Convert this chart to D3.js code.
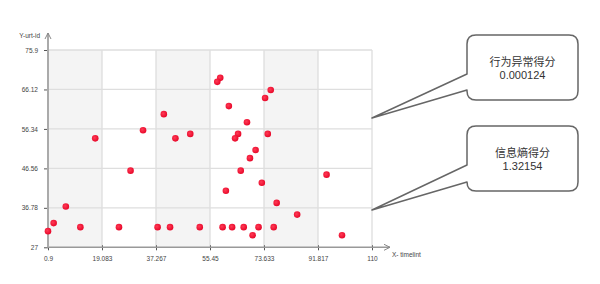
<!DOCTYPE html>
<html>
<head>
<meta charset="utf-8">
<script src="https://cdn.jsdelivr.net/npm/d3@7"></script>
<style>
  html, body { margin: 0; padding: 0; background: #fff; }
  svg { display: block; font-family: "Liberation Sans", Arial, sans-serif; }
</style>
</head>
<body>
<div id="chart"></div>
<script>
// tick values shown on the axes
const xTicks = [0.9, 19.083, 37.267, 55.45, 73.633, 91.817, 110];
const yTicks = [27, 36.78, 46.56, 56.34, 66.12, 75.9];

// scatter points
const xs = [16.8, 32.9, 39.9, 43.8, 48.8, 28.7, 0.9, 2.8, 6.9, 11.8,
  24.8, 37.8, 42.0, 52.0, 58.9, 57.9, 75.9, 74.0, 61.8, 67.9,
  64.9, 63.9, 74.9, 70.8, 68.9, 65.8, 72.9, 94.7, 60.8, 77.9,
  84.8, 59.7, 62.9, 66.8, 71.8, 76.9, 69.8, 99.9];
const ys = [54.0, 56.0, 60.0, 54.0, 55.1, 46.0, 31.0, 33.0, 37.1, 32.0,
  32.0, 32.0, 32.0, 32.0, 69.0, 68.0, 66.0, 64.0, 62.0, 58.0,
  55.1, 54.0, 55.1, 51.1, 49.1, 46.0, 43.0, 45.0, 41.0, 38.0,
  35.1, 32.0, 32.0, 32.0, 32.0, 32.0, 30.0, 30.0];

// callout boxes
const calloutTitles = ["行为异常得分", "信息熵得分"];
const calloutValues = ["0.000124", "1.32154"];

const W = 600, H = 284;
const x = d3.scaleLinear().domain([0.9, 110]).range([48, 372]);
const y = d3.scaleLinear().domain([27, 75.9]).range([247.3, 50]);

const svg = d3.select("#chart").append("svg")
  .attr("width", W).attr("height", H);

const defs = svg.append("defs");
const grad = defs.append("radialGradient").attr("id", "dot")
  .attr("cx", "40%").attr("cy", "40%").attr("r", "60%");
grad.append("stop").attr("offset", "0%").attr("stop-color", "#ff3a55");
grad.append("stop").attr("offset", "100%").attr("stop-color", "#e8082a");

// alternating column bands
const bands = d3.pairs(xTicks);
svg.append("g").selectAll("rect").data(bands).join("rect")
  .attr("x", d => x(d[0])).attr("width", d => x(d[1]) - x(d[0]))
  .attr("y", y(75.9)).attr("height", y(27) - y(75.9))
  .attr("fill", (d, i) => i % 2 === 0 ? "#f4f4f4" : "#fff");

// grid
const grid = svg.append("g").attr("stroke", "#dedede").attr("stroke-width", 1.3);
grid.selectAll(".gx").data(xTicks.slice(1)).join("line")
  .attr("x1", d => x(d)).attr("x2", d => x(d))
  .attr("y1", y(75.9)).attr("y2", y(27));
grid.selectAll(".gy").data(yTicks.slice(1)).join("line")
  .attr("x1", x(0.9)).attr("x2", x(110))
  .attr("y1", d => y(d)).attr("y2", d => y(d));

// x axis
const gx = svg.append("g").attr("transform", `translate(0,${y(27)})`)
  .call(d3.axisBottom(x).tickValues(xTicks).tickFormat(d => d)
    .tickSizeInner(4).tickSizeOuter(0).tickPadding(5));
gx.select(".domain").remove();
gx.selectAll(".tick line").attr("stroke", "#555").attr("y1", -2).attr("y2", 3);
gx.selectAll("text").attr("font-size", "6.5px").attr("fill", "#444")
  .attr("font-family", "Liberation Sans, Arial, sans-serif");
svg.append("line").attr("x1", x(0.9)).attr("x2", 390)
  .attr("y1", y(27)).attr("y2", y(27))
  .attr("stroke", "#999").attr("stroke-width", 1.5);
svg.append("path").attr("d", `M384,${y(27) - 3}L390,${y(27)}L384,${y(27) + 3}`)
  .attr("fill", "none").attr("stroke", "#888").attr("stroke-width", 1);
svg.append("text").attr("x", 392).attr("y", 257).attr("font-size", "6.5px")
  .attr("fill", "#444").text("X- timelint");

// y axis
const gy = svg.append("g").attr("transform", `translate(${x(0.9)},0)`)
  .call(d3.axisLeft(y).tickValues(yTicks).tickFormat(d => d)
    .tickSizeInner(4).tickSizeOuter(0).tickPadding(6));
gy.select(".domain").remove();
gy.selectAll(".tick line").attr("stroke", "#555");
gy.selectAll("text").attr("font-size", "6.5px").attr("fill", "#444")
  .attr("font-family", "Liberation Sans, Arial, sans-serif");
svg.append("line").attr("x1", x(0.9)).attr("x2", x(0.9))
  .attr("y1", y(27)).attr("y2", 33)
  .attr("stroke", "#aaa").attr("stroke-width", 2);
svg.append("path").attr("d", `M${x(0.9) - 3},39L${x(0.9)},33L${x(0.9) + 3},39`)
  .attr("fill", "none").attr("stroke", "#888").attr("stroke-width", 1);
svg.append("text").attr("x", 40).attr("y", 38).attr("text-anchor", "end")
  .attr("font-size", "6.5px").attr("fill", "#444").text("Y-urt-id");

// points
svg.append("g").selectAll("circle").data(d3.range(xs.length)).join("circle")
  .attr("cx", i => x(xs[i])).attr("cy", i => y(ys[i]))
  .attr("r", 3.3).attr("fill", "url(#dot)");

// callouts
const boxes = [
  { y0: 35, y1: 100, a: 74, b: 90, tip: 118 },
  { y0: 126, y1: 191, a: 165, b: 182, tip: 210 }
];
const bx0 = 467, bx1 = 578, r = 9;
boxes.forEach((bx, i) => {
  const p = d3.path();
  p.moveTo(bx0 + r, bx.y0);
  p.lineTo(bx1 - r, bx.y0);
  p.quadraticCurveTo(bx1, bx.y0, bx1, bx.y0 + r);
  p.lineTo(bx1, bx.y1 - r);
  p.quadraticCurveTo(bx1, bx.y1, bx1 - r, bx.y1);
  p.lineTo(bx0 + r, bx.y1);
  p.quadraticCurveTo(bx0, bx.y1, bx0, bx.y1 - r);
  p.lineTo(bx0, bx.b);
  p.lineTo(x(110), bx.tip);
  p.lineTo(bx0, bx.a);
  p.lineTo(bx0, bx.y0 + r);
  p.quadraticCurveTo(bx0, bx.y0, bx0 + r, bx.y0);
  p.closePath();
  svg.append("path").attr("d", p.toString())
    .attr("fill", "#fff").attr("stroke", "#666").attr("stroke-width", 1.5)
    .attr("stroke-linejoin", "round");
  const cx = (bx0 + bx1) / 2, cy = (bx.y0 + bx.y1) / 2;
  svg.append("text").attr("x", cx).attr("y", cy - 7)
    .attr("text-anchor", "middle").attr("dominant-baseline", "central")
    .attr("font-family", "'Noto Sans CJK SC', sans-serif")
    .attr("font-size", "11px").attr("fill", "#333").text(calloutTitles[i]);
  svg.append("text").attr("x", cx).attr("y", cy + 7.5)
    .attr("text-anchor", "middle").attr("dominant-baseline", "central")
    .attr("font-size", "11px").attr("fill", "#333").text(calloutValues[i]);
});
</script>
</body>
</html>
